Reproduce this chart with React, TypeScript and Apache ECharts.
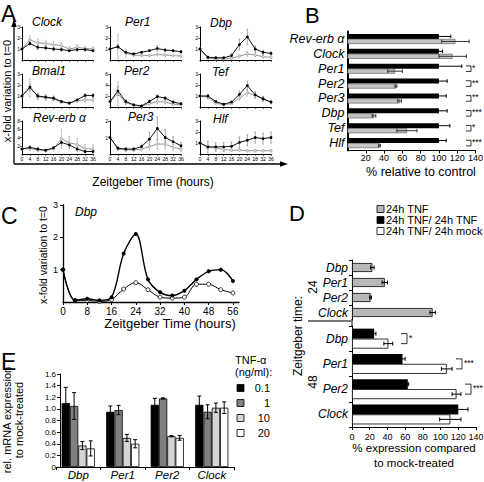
import React, { useEffect, useRef } from "react";
import * as echarts from "echarts";

const FONT = "'Liberation Sans', Arial, Helvetica, sans-serif";

// ===== Panel A data =====
const aTimes = [0, 4, 8, 12, 16, 20, 24, 28, 32, 36];
const aGenes = ["Clock", "Per1", "Dbp", "Bmal1", "Per2", "Tef", "Rev-erb α", "Per3", "Hlf"];
const aYMax = [3, 3, 3, 3, 6, 3, 8, 2, 3];
const aYStep = [1, 1, 1, 1, 2, 1, 2, 1, 1];

const clockCtrl = [1, 1.5, 1.15, 1.1, 1.0, 0.95, 0.85, 0.95, 0.95, 0.85];
const clockTnf = [1, 1.85, 1.55, 1.5, 1.4, 1.3, 1.0, 1.15, 1.05, 1.0];
const clockCtrlErr = [0, 0.15, 0.2, 0.2, 0.15, 0.15, 0.1, 0.15, 0.15, 0.1];
const clockTnfErr = [0, 0.35, 0.35, 0.3, 0.3, 0.3, 0.2, 0.25, 0.2, 0.2];

const per1Ctrl = [1, 1.2, 0.7, 0.55, 0.7, 0.85, 1.05, 0.9, 0.85, 0.75];
const per1Tnf = [1, 1.25, 0.6, 0.45, 0.4, 0.4, 0.5, 0.45, 0.4, 0.35];
const per1CtrlErr = [0, 0.2, 0.1, 0.1, 0.1, 0.1, 0.25, 0.15, 0.1, 0.1];
const per1TnfErr = [0, 1.1, 0.4, 0.15, 0.1, 0.1, 0.1, 0.1, 0.1, 0.1];

const dbpCtrl = [1, 0.25, 0.2, 0.2, 0.4, 1.4, 2.1, 1.0, 0.7, 0.6];
const dbpTnf = [1, 0.15, 0.1, 0.1, 0.15, 0.35, 0.55, 0.45, 0.3, 0.25];
const dbpCtrlErr = [0, 0.1, 0.1, 0.1, 0.2, 0.5, 0.7, 0.3, 0.2, 0.15];
const dbpTnfErr = [0, 0.05, 0.05, 0.05, 0.05, 0.15, 0.2, 0.15, 0.1, 0.1];

const bmal1Ctrl = [1, 1.8, 1.0, 0.9, 0.8, 0.5, 0.35, 0.65, 1.05, 1.05];
const bmal1Tnf = [1, 1.75, 0.95, 0.85, 0.75, 0.45, 0.35, 0.55, 0.65, 0.65];
const bmal1CtrlErr = [0, 0.3, 0.2, 0.2, 0.2, 0.1, 0.1, 0.1, 0.15, 0.15];
const bmal1TnfErr = [0, 0.8, 0.3, 0.25, 0.2, 0.1, 0.1, 0.15, 0.2, 0.2];

const per2Ctrl = [1, 2.9, 1.0, 0.4, 0.2, 1.0, 1.9, 1.6, 0.9, 0.6];
const per2Tnf = [1, 2.4, 0.8, 0.3, 0.15, 0.6, 1.0, 0.9, 0.5, 0.4];
const per2CtrlErr = [0, 0.8, 0.3, 0.1, 0.1, 0.3, 0.3, 0.3, 0.2, 0.2];
const per2TnfErr = [0, 2.2, 0.4, 0.1, 0.1, 0.2, 0.4, 0.3, 0.2, 0.2];

const tefCtrl = [1, 1.0, 0.5, 0.25, 0.45, 1.15, 1.95, 1.1, 0.75, 0.45];
const tefTnf = [1, 0.9, 0.35, 0.2, 0.3, 0.8, 1.3, 1.05, 0.7, 0.45];
const tefCtrlErr = [0, 0.15, 0.1, 0.05, 0.1, 0.3, 0.4, 0.3, 0.2, 0.15];
const tefTnfErr = [0, 0.2, 0.1, 0.05, 0.1, 0.2, 0.3, 0.2, 0.2, 0.15];

const revCtrl = [1.2, 1.6, 1.2, 0.9, 1.5, 2.8, 2.2, 1.2, 0.6, 0.6];
const revTnf = [1.2, 1.3, 1.0, 0.8, 1.3, 3.7, 2.7, 2.3, 1.3, 1.2];
const revCtrlErr = [0, 0.4, 0.3, 0.2, 0.3, 0.8, 0.6, 0.4, 0.3, 0.3];
const revTnfErr = [0, 0.5, 0.4, 0.3, 0.5, 2.3, 1.5, 1.5, 1.0, 1.0];

const per3Ctrl = [1, 0.35, 0.3, 0.3, 0.45, 0.9, 1.55, 1.0, 0.75, 0.5];
const per3Tnf = [1, 0.3, 0.25, 0.25, 0.3, 0.45, 0.6, 0.6, 0.4, 0.3];
const per3CtrlErr = [0, 0.1, 0.1, 0.1, 0.15, 0.4, 0.7, 0.5, 0.3, 0.2];
const per3TnfErr = [0, 0.1, 0.1, 0.1, 0.1, 0.2, 0.3, 0.3, 0.2, 0.15];

const hlfCtrl = [1, 0.65, 0.65, 0.65, 0.7, 1.05, 1.25, 1.5, 1.4, 1.5];
const hlfTnf = [1, 0.6, 0.55, 0.4, 0.35, 0.35, 0.3, 0.3, 0.3, 0.3];
const hlfCtrlErr = [0, 0.5, 0.4, 0.4, 0.4, 0.5, 0.5, 0.5, 0.5, 0.5];
const hlfTnfErr = [0, 0.2, 0.2, 0.15, 0.1, 0.1, 0.1, 0.1, 0.1, 0.1];

// ===== Panel B data =====
const bGenes = ["Rev-erb α", "Clock", "Per1", "Per2", "Per3", "Dbp", "Tef", "Hlf"];
const bControl = [100, 100, 100, 100, 100, 100, 100, 100];
const bControlErr = [13, 4, 25, 9, 8, 9, 12, 8];
const bTnf = [118, 115, 52, 53, 57, 29, 65, 35];
const bTnfErr = [15, 15, 8, 1, 2, 2, 11, 1];
const bSig = ["", "", "*", "**", "**", "***", "*", "***"];

// ===== Panel C data =====
const cTimes = [0, 4, 8, 12, 16, 20, 24, 28, 32, 36, 40, 44, 48, 52, 56];
const cCtrl = [1.0, 0.05, 0.1, 0.05, 0.15, 1.5, 2.1, 0.7, 0.3, 0.2, 0.35, 0.7, 0.95, 1.0, 0.65];
const cTnf = [1.0, 0.05, 0.05, 0.02, 0.08, 0.4, 0.6, 0.38, 0.15, 0.12, 0.15, 0.55, 0.55, 0.38, 0.28];

// ===== Panel D data =====
const dGenes = ["Dbp", "Per1", "Per2", "Clock"];
const d24 = [23, 37, 21, 91];
const d24Err = [2, 3, 1, 3];
const d48Tnf = [25, 57, 63, 120];
const d48TnfErr = [2, 3, 1, 11];
const d48Mock = [41, 107, 118, 111];
const d48MockErr = [5, 6, 5, 12];
const dSig = ["*", "***", "***", ""];
const dLegend = ["24h TNF", "24h TNF/ 24h TNF", "24h TNF/ 24h mock"];

// ===== Panel E data =====
const eGenes = ["Dbp", "Per1", "Per2", "Clock"];
const eDoses = ["0.1", "1", "10", "20"];
const e01 = [1.1, 0.95, 1.07, 1.07];
const e01Err = [0.27, 0.1, 0.11, 0.15];
const e1 = [1.05, 0.98, 1.18, 0.95];
const e1Err = [0.23, 0.08, 0.01, 0.12];
const e10 = [0.37, 0.5, 0.53, 1.02];
const e10Err = [0.07, 0.06, 0.01, 0.08];
const e20 = [0.32, 0.4, 0.5, 1.02];
const e20Err = [0.13, 0.07, 0.04, 0.1];

// ===== layout constants =====
const A_LEFT = [22, 110, 200];
const A_TOP = [27, 74, 121];
const A_W = 71;
const A_H = 33;
const A_TITLE_POS = [
  [32, 22], [125, 22], [210, 23],
  [32, 71], [124, 71], [212, 72],
  [33, 118], [128, 117], [213, 119],
];

const B_BOX = { left: 347.5, top: 31.5, width: 128, height: 119 };
const C_BOX = { left: 63, top: 205, width: 176, height: 97 };
const D1_BOX = { left: 352, top: 260, width: 124, height: 60 };
const D2_BOX = { left: 352, top: 326, width: 124, height: 101 };
const E_BOX = { left: 56, top: 374, width: 178, height: 93 };

const D_SIG_X = [401, 456, 465];

function errV(gi: number, xs: number[], vals: number[], errs: number[], offset: number, color: string, cap: number, lw: number) {
  return {
    type: "custom",
    xAxisIndex: gi,
    yAxisIndex: gi,
    silent: true,
    z: 6,
    encode: { x: 0, y: 1 },
    data: vals.map((v, k) => [xs[k], v, errs[k]]),
    renderItem: (_p: any, api: any) => {
      const x = api.value(0);
      const v = api.value(1);
      const e = api.value(2);
      if (!e) return { type: "group", children: [] };
      const lo = api.coord([x, Math.max(0, v - e)]);
      const hi = api.coord([x, v + e]);
      const px = lo[0] + offset;
      const st = { stroke: color, lineWidth: lw, fill: "none" };
      const ch: any[] = [
        { type: "line", shape: { x1: px, y1: lo[1], x2: px, y2: hi[1] }, style: st },
      ];
      if (cap > 0) {
        ch.push({ type: "line", shape: { x1: px - cap, y1: lo[1], x2: px + cap, y2: lo[1] }, style: st });
        ch.push({ type: "line", shape: { x1: px - cap, y1: hi[1], x2: px + cap, y2: hi[1] }, style: st });
      }
      return { type: "group", children: ch };
    },
  };
}

function errH(gi: number, vals: number[], errs: number[], offset: number, color: string, cap: number) {
  return {
    type: "custom",
    xAxisIndex: gi,
    yAxisIndex: gi,
    silent: true,
    z: 6,
    encode: { x: 0, y: 1 },
    data: vals.map((v, k) => [v, k, errs[k]]),
    renderItem: (_p: any, api: any) => {
      const v = api.value(0);
      const c = api.value(1);
      const e = api.value(2);
      const a = api.coord([v - e, c]);
      const b = api.coord([v + e, c]);
      const y = a[1] + offset;
      const st = { stroke: color, lineWidth: 1, fill: "none" };
      return {
        type: "group",
        children: [
          { type: "line", shape: { x1: a[0], y1: y, x2: b[0], y2: y }, style: st },
          { type: "line", shape: { x1: a[0], y1: y - cap, x2: a[0], y2: y + cap }, style: st },
          { type: "line", shape: { x1: b[0], y1: y - cap, x2: b[0], y2: y + cap }, style: st },
        ],
      };
    },
  };
}

function txt(x: number, y: number, text: string, o: any = {}) {
  return {
    type: "text",
    x,
    y,
    rotation: o.rot || 0,
    silent: true,
    z: 20,
    style: {
      text,
      fill: "#000",
      fontSize: o.size || 12,
      fontFamily: FONT,
      fontStyle: o.italic ? "italic" : "normal",
      align: o.align || "left",
      verticalAlign: "middle",
      lineHeight: o.lh || undefined,
    },
  };
}

function lineG(x1: number, y1: number, x2: number, y2: number, color = "#000", w = 1) {
  return { type: "line", silent: true, z: 20, shape: { x1, y1, x2, y2 }, style: { stroke: color, lineWidth: w } };
}

function bracket(x0: number, yTop: number, yBot: number, w: number) {
  return {
    type: "polyline",
    silent: true,
    z: 20,
    shape: { points: [[x0, yTop], [x0 + w, yTop], [x0 + w, yBot], [x0, yBot]] },
    style: { stroke: "#000", lineWidth: 0.8, fill: "none" },
  };
}

function buildOption() {
  const grid: any[] = [];
  const xAxis: any[] = [];
  const yAxis: any[] = [];
  const series: any[] = [];
  const graphic: any[] = [];
  const axisLine = (w = 1) => ({ show: true, lineStyle: { color: "#000", width: w } });
  const lbl = (size: number, extra: any = {}) => ({ color: "#000", fontFamily: FONT, fontSize: size, ...extra });

  // ---------- Panel A ----------
  const aSets = [
    [clockCtrl, clockTnf, clockCtrlErr, clockTnfErr],
    [per1Ctrl, per1Tnf, per1CtrlErr, per1TnfErr],
    [dbpCtrl, dbpTnf, dbpCtrlErr, dbpTnfErr],
    [bmal1Ctrl, bmal1Tnf, bmal1CtrlErr, bmal1TnfErr],
    [per2Ctrl, per2Tnf, per2CtrlErr, per2TnfErr],
    [tefCtrl, tefTnf, tefCtrlErr, tefTnfErr],
    [revCtrl, revTnf, revCtrlErr, revTnfErr],
    [per3Ctrl, per3Tnf, per3CtrlErr, per3TnfErr],
    [hlfCtrl, hlfTnf, hlfCtrlErr, hlfTnfErr],
  ];
  aGenes.forEach((g, i) => {
    const r = Math.floor(i / 3);
    const c = i % 3;
    const gi = grid.length;
    grid.push({ left: A_LEFT[c], top: A_TOP[r], width: A_W, height: A_H, outerBoundsMode: "none", containLabel: false });
    xAxis.push({
      gridIndex: gi, type: "value", min: 0, max: 36, interval: 4,
      axisLine: axisLine(1), axisTick: { show: true, length: 2, lineStyle: { color: "#000", width: 0.6 } },
      axisLabel: lbl(5, { show: r === 2, margin: 2 }), splitLine: { show: false },
    });
    yAxis.push({
      gridIndex: gi, type: "value", min: 0, max: aYMax[i], interval: aYStep[i],
      axisLine: axisLine(1), axisTick: { show: true, length: 2, lineStyle: { color: "#000", width: 0.6 } },
      axisLabel: lbl(5, { margin: 2, showMinLabel: false }), splitLine: { show: false },
    });
    const [ctrl, tnf, ce, te] = aSets[i];
    series.push(errV(gi, aTimes, tnf, te, 0, "#b0b0b0", 0.8, 0.8));
    series.push(errV(gi, aTimes, ctrl, ce, 0, "#909090", 0.8, 0.8));
    series.push({
      type: "line", xAxisIndex: gi, yAxisIndex: gi, data: aTimes.map((t, k) => [t, tnf[k]]),
      symbol: "circle", symbolSize: 2.5, lineStyle: { color: "#999", width: 1 },
      itemStyle: { color: "#ddd", borderColor: "#999", borderWidth: 0.6 }, z: 7,
    });
    series.push({
      type: "line", xAxisIndex: gi, yAxisIndex: gi, data: aTimes.map((t, k) => [t, ctrl[k]]),
      symbol: "circle", symbolSize: 2.8, lineStyle: { color: "#111", width: 1 },
      itemStyle: { color: "#000" }, z: 8,
    });
    graphic.push(txt(A_TITLE_POS[i][0], A_TITLE_POS[i][1], g, { size: 12, italic: true }));
  });
  // A decorations
  graphic.push(txt(1, 14, "A", { size: 23 }));
  graphic.push(lineG(14, 164, 281, 164, "#000", 1.3));
  graphic.push(lineG(14, 164, 14, 26, "#000", 1.3));
  graphic.push({ type: "polygon", silent: true, shape: { points: [[14, 19], [11.3, 27], [16.7, 27]] }, style: { fill: "#000" } });
  graphic.push({ type: "polygon", silent: true, shape: { points: [[288, 164], [280, 161.3], [280, 166.7]] }, style: { fill: "#000" } });
  graphic.push(txt(7, 91, "x-fold variation to t=0", { size: 11, align: "center", rot: Math.PI / 2 }));
  graphic.push(txt(153, 182, "Zeitgeber Time (hours)", { size: 12, align: "center" }));

  // ---------- Panel B ----------
  {
    const gi = grid.length;
    grid.push({ ...B_BOX, outerBoundsMode: "none", containLabel: false });
    xAxis.push({
      gridIndex: gi, type: "value", min: 0, max: 140, interval: 20,
      axisLine: axisLine(1), axisTick: { show: true, length: 3, lineStyle: { color: "#000" } },
      axisLabel: lbl(9, { margin: 3, showMinLabel: false }), splitLine: { show: false },
    });
    yAxis.push({
      gridIndex: gi, type: "category", data: bGenes, inverse: true,
      axisLine: axisLine(2), axisTick: { show: false },
      axisLabel: lbl(12.5, { fontStyle: "italic", margin: 3, interval: 0 }),
    });
    series.push({
      type: "bar", xAxisIndex: gi, yAxisIndex: gi, data: bControl, barWidth: 5, barGap: "0%",
      itemStyle: { color: "#000" }, z: 3,
    });
    series.push({
      type: "bar", xAxisIndex: gi, yAxisIndex: gi, data: bTnf, barWidth: 5, barGap: "0%",
      itemStyle: { color: "#c4c4c4", borderColor: "#555", borderWidth: 0.6 }, z: 3,
    });
    series.push(errH(gi, bControl, bControlErr, -2.5, "#000", 1.8));
    series.push(errH(gi, bTnf, bTnfErr, 2.5, "#333", 1.8));
    const band = B_BOX.height / bGenes.length;
    bSig.forEach((s, k) => {
      if (!s) return;
      const yc = B_BOX.top + band * (k + 0.5);
      graphic.push(bracket(466, yc - 2.8, yc + 2.8, 5));
      graphic.push(txt(472, yc - 1, s, { size: 8.5 }));
    });
    graphic.push(txt(305, 15, "B", { size: 22 }));
    graphic.push(txt(421, 172, "% relative to control", { size: 12.5, align: "center" }));
  }

  // ---------- Panel C ----------
  {
    const gi = grid.length;
    grid.push({ ...C_BOX, outerBoundsMode: "none", containLabel: false });
    xAxis.push({
      gridIndex: gi, type: "value", min: 0, max: 58, interval: 8,
      axisLine: axisLine(1.3), axisTick: { show: true, length: 3, lineStyle: { color: "#000" } },
      axisLabel: lbl(10, { margin: 4, showMaxLabel: false, formatter: (v: number) => (v % 8 === 0 ? String(v) : "") }),
      splitLine: { show: false },
    });
    yAxis.push({
      gridIndex: gi, type: "value", min: 0, max: 3, interval: 1,
      axisLine: axisLine(1.3), axisTick: { show: true, length: 3, lineStyle: { color: "#000" } },
      axisLabel: lbl(9, { margin: 5, showMinLabel: false }), splitLine: { show: false },
    });
    series.push({
      type: "line", xAxisIndex: gi, yAxisIndex: gi, smooth: 0.35,
      data: cTimes.map((t, k) => [t, cTnf[k]]),
      symbol: "circle", symbolSize: 4, lineStyle: { color: "#000", width: 1 },
      itemStyle: { color: "#fff", borderColor: "#000", borderWidth: 0.8 }, z: 4,
    });
    series.push({
      type: "line", xAxisIndex: gi, yAxisIndex: gi, smooth: 0.35,
      data: cTimes.map((t, k) => [t, cCtrl[k]]),
      symbol: "circle", symbolSize: 4, lineStyle: { color: "#000", width: 1.4 },
      itemStyle: { color: "#000" }, z: 5,
    });
    graphic.push(txt(1, 216, "C", { size: 23 }));
    graphic.push(txt(75, 212, "Dbp", { size: 12, italic: true }));
    graphic.push(txt(43, 255, "x-fold variation to t=0", { size: 10.5, align: "center", rot: Math.PI / 2 }));
    graphic.push(txt(170, 323, "Zeitgeber Time (hours)", { size: 13, align: "center" }));
  }

  // ---------- Panel D ----------
  {
    const g1 = grid.length;
    grid.push({ ...D1_BOX, outerBoundsMode: "none", containLabel: false });
    xAxis.push({ gridIndex: g1, type: "value", min: 0, max: 140, interval: 20, show: false });
    yAxis.push({
      gridIndex: g1, type: "category", data: dGenes, inverse: true,
      axisLine: axisLine(1), axisTick: { show: true, length: 3, lineStyle: { color: "#000" } },
      axisLabel: lbl(12, { fontStyle: "italic", margin: 4, interval: 0 }),
    });
    series.push({
      type: "bar", xAxisIndex: g1, yAxisIndex: g1, data: d24, barWidth: 9,
      itemStyle: { color: "#b8b8b8", borderColor: "#000", borderWidth: 0.8 }, z: 3,
    });
    series.push(errH(g1, d24, d24Err, 0, "#000", 2));

    const g2 = grid.length;
    grid.push({ ...D2_BOX, outerBoundsMode: "none", containLabel: false });
    xAxis.push({
      gridIndex: g2, type: "value", min: 0, max: 140, interval: 20,
      axisLine: axisLine(1), axisTick: { show: true, length: 3, lineStyle: { color: "#000" } },
      axisLabel: lbl(9, { margin: 5 }), splitLine: { show: false },
    });
    yAxis.push({
      gridIndex: g2, type: "category", data: dGenes, inverse: true,
      axisLine: axisLine(1), axisTick: { show: true, length: 3, lineStyle: { color: "#000" } },
      axisLabel: lbl(12, { fontStyle: "italic", margin: 4, interval: 0 }),
    });
    series.push({
      type: "bar", xAxisIndex: g2, yAxisIndex: g2, data: d48Tnf, barWidth: 10, barGap: "0%",
      itemStyle: { color: "#000" }, z: 3,
    });
    series.push({
      type: "bar", xAxisIndex: g2, yAxisIndex: g2, data: d48Mock, barWidth: 10, barGap: "0%",
      itemStyle: { color: "#fff", borderColor: "#000", borderWidth: 0.8 }, z: 3,
    });
    series.push(errH(g2, d48Tnf, d48TnfErr, -5, "#000", 2));
    series.push(errH(g2, d48Mock, d48MockErr, 5, "#000", 2));

    const band = D2_BOX.height / dGenes.length;
    dSig.forEach((s, k) => {
      if (!s) return;
      const yc = D2_BOX.top + band * (k + 0.5);
      graphic.push(bracket(D_SIG_X[k], yc - 5, yc + 5, 6));
      graphic.push(txt(D_SIG_X[k] + 8, yc - 1, s, { size: 8.5 }));
    });
    graphic.push(lineG(352, 319, 352, 327, "#000", 1));
    graphic.push(lineG(308, 321, 352, 321, "#777", 2));
    graphic.push(txt(289, 213, "D", { size: 22 }));
    const legFill = ["#b8b8b8", "#000", "#fff"];
    const legY = [209, 220, 231];
    dLegend.forEach((s, k) => {
      graphic.push({ type: "rect", silent: true, shape: { x: 377, y: legY[k] - 3.5, width: 7, height: 7 }, style: { fill: legFill[k], stroke: "#000", lineWidth: 0.8 } });
      graphic.push(txt(386, legY[k], s, { size: 11 }));
    });
    graphic.push(txt(298, 336, "Zeitgeber time:", { size: 12, align: "center", rot: Math.PI / 2 }));
    graphic.push(txt(313, 287, "24", { size: 12, align: "center", rot: Math.PI / 2 }));
    graphic.push(txt(313, 382, "48", { size: 12, align: "center", rot: Math.PI / 2 }));
    graphic.push(txt(414, 455, "% expression compared\nto mock-treated", { size: 11.5, align: "center", lh: 15 }));
  }

  // ---------- Panel E ----------
  {
    const gi = grid.length;
    grid.push({ ...E_BOX, outerBoundsMode: "none", containLabel: false });
    xAxis.push({
      gridIndex: gi, type: "category", data: eGenes,
      axisLine: axisLine(1), axisTick: { show: true, length: 3, lineStyle: { color: "#000" } },
      axisLabel: lbl(11.5, { fontStyle: "italic", margin: 2, interval: 0 }),
    });
    yAxis.push({
      gridIndex: gi, type: "value", min: 0, max: 1.6, interval: 0.2, offset: -4,
      axisLine: axisLine(1), axisTick: { show: true, length: 3, lineStyle: { color: "#000" } },
      axisLabel: lbl(8, { margin: 4, formatter: (v: number) => (v === 0 ? "0" : v.toFixed(1)) }),
      splitLine: { show: false },
    });
    const eVals = [e01, e1, e10, e20];
    const eErrs = [e01Err, e1Err, e10Err, e20Err];
    const eFill = ["#000", "#7f7f7f", "#d4d4d4", "#fff"];
    const bw = 8.3;
    eVals.forEach((vals, s) => {
      series.push({
        type: "bar", xAxisIndex: gi, yAxisIndex: gi, data: vals, barWidth: bw, barGap: "0%",
        itemStyle: { color: eFill[s], borderColor: "#000", borderWidth: 0.8 }, z: 3,
      });
    });
    eVals.forEach((vals, s) => {
      series.push(errV(gi, eGenes.map((_, k) => k), vals, eErrs[s], (s - 1.5) * bw, "#000", 2, 1));
    });
    graphic.push(txt(1, 362, "E", { size: 23 }));
    graphic.push(txt(13, 420, "rel. mRNA expression\nto mock-treated", { size: 11, align: "center", rot: Math.PI / 2, lh: 12 }));
    graphic.push(txt(235, 360, "TNF-α", { size: 11 }));
    graphic.push(txt(235, 372, "(ng/ml):", { size: 11 }));
    const legY = [388, 403, 418, 433];
    eDoses.forEach((d, k) => {
      graphic.push({ type: "rect", silent: true, shape: { x: 237, y: legY[k] - 3.5, width: 7, height: 7 }, style: { fill: eFill[k], stroke: "#000", lineWidth: 0.8 } });
      graphic.push(txt(270, legY[k], d, { size: 11, align: "right" }));
    });
  }

  return {
    animation: false,
    backgroundColor: "#fff",
    textStyle: { fontFamily: FONT },
    grid,
    xAxis,
    yAxis,
    series,
    graphic: { elements: graphic },
  };
}

export default function App() {
  const ref = useRef<HTMLDivElement>(null);
  useEffect(() => {
    if (!ref.current) return;
    const chart = echarts.init(ref.current, undefined, { renderer: "svg" });
    chart.setOption(buildOption() as any);
    return () => chart.dispose();
  }, []);
  return (
    <div
      ref={ref}
      style={{ position: "fixed", left: 0, top: 0, width: 484, height: 482, background: "#fff" }}
    />
  );
}
